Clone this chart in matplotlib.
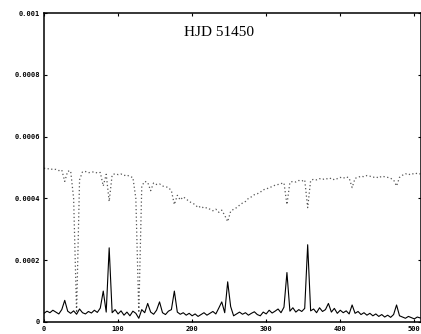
import numpy as np
import matplotlib
matplotlib.use("Agg")
from matplotlib import pyplot as plt

# pixel index of the spectrum, sampled every 4 pixels
pixel = np.arange(0, 512, 4)

# dotted spectrum (units of 1e-5)
upper_e5 = [
    49.8, 49.5, 49.7, 49.3, 49.4, 49.0, 49.2, 45.5,
    48.8, 48.9, 40.0, 3.0, 46.0, 48.6, 48.7, 48.3,
    48.5, 48.6, 48.2, 48.4, 44.0, 47.8, 39.0, 47.6,
    48.0, 47.7, 47.9, 47.4, 47.6, 47.0, 46.8, 40.0,
    3.0, 44.0, 45.5, 45.2, 42.5, 45.0, 44.5, 44.7,
    44.0, 43.8, 43.5, 42.5, 38.0, 41.0, 39.5, 40.5,
    39.8, 39.0, 38.5, 38.0, 37.0, 37.5, 36.8, 37.0,
    36.5, 36.0, 36.5, 35.5, 36.2, 34.5, 32.5, 35.8,
    36.5, 37.0, 37.8, 38.5, 39.0, 40.0, 40.5, 41.2,
    41.5, 42.0, 42.8, 43.0, 43.5, 43.8, 44.3, 44.5,
    44.8, 45.0, 38.0, 45.2, 45.5, 45.3, 45.8, 45.6,
    46.0, 37.0, 45.8, 46.2, 46.0, 46.4, 46.1, 46.5,
    46.2, 46.6, 46.0, 46.4, 46.8, 46.5, 47.0, 46.6,
    43.5, 46.5, 46.8, 47.2, 47.0, 47.4, 47.2, 46.8,
    47.0, 46.6, 47.2, 47.0, 46.8, 46.5, 46.0, 44.0,
    46.8, 47.5, 48.0, 47.6, 48.1, 47.8, 48.2, 47.9,
]

# solid spectrum near zero (units of 1e-5)
lower_e5 = [
    2.8, 3.5, 3.0, 3.8, 3.2, 2.6, 4.0, 7.0,
    3.5, 2.8, 3.6, 2.5, 4.2, 3.0, 2.6, 3.4,
    2.9, 3.8, 3.1, 4.5, 10.0, 3.2, 24.0, 3.0,
    4.0, 2.6, 3.6, 2.2, 3.2, 2.0, 3.5, 2.8,
    1.2, 4.0, 3.0, 6.0, 3.2, 2.5, 3.8, 6.5,
    3.0, 2.4, 3.5, 4.0, 10.0, 3.2, 2.5, 3.0,
    2.2, 2.8, 2.0, 2.6, 1.8, 2.4, 3.0, 2.2,
    2.8, 3.4, 2.6, 4.5, 6.5, 3.0, 13.0, 5.0,
    2.0, 2.6, 3.2, 2.5, 3.0, 2.2, 2.8, 3.3,
    2.4, 2.0, 3.2, 2.6, 3.8, 2.9, 3.5, 4.2,
    3.0, 4.8, 16.0, 3.5, 4.6, 3.2, 4.0, 3.4,
    4.4, 25.0, 3.6, 4.2, 3.0, 4.6, 3.4, 4.0,
    6.0, 3.2, 4.4, 2.8, 3.8, 3.0, 3.6, 2.6,
    5.5, 2.8, 3.4, 2.4, 3.0, 2.2, 2.8, 2.0,
    2.6, 1.8, 2.4, 1.6, 2.2, 1.5, 2.4, 5.5,
    2.0, 1.6, 1.2, 1.8, 1.4, 1.0, 1.6, 1.3,
]

x_ticks = [0, 100, 200, 300, 400, 500]
y_ticks = [0, 0.0002, 0.0004, 0.0006, 0.0008, 0.001]
y_tick_labels = ["0", "0.0002", "0.0004", "0.0006", "0.0008", "0.001"]
title = "HJD 51450"

upper = np.array(upper_e5) * 1e-5
lower = np.array(lower_e5) * 1e-5

fig = plt.figure(figsize=(4.21, 3.34), dpi=100)
ax = fig.add_axes([0.1045, 0.036, 0.8955, 0.925])

ax.plot(pixel, upper, color="#555555", linestyle=(0, (1, 2)), linewidth=0.9)
ax.plot(pixel, lower, color="black", linewidth=0.8)

ax.set_xlim(0, 509)
ax.set_ylim(0, 0.001)
ax.set_xticks(x_ticks)
ax.set_xticklabels([str(t) for t in x_ticks])
ax.set_yticks(y_ticks)
ax.set_yticklabels(y_tick_labels)

for s in ax.spines.values():
    s.set_linewidth(1.1)
ax.tick_params(direction="in", length=2, width=0.8, pad=3,
               right=True, top=True, labelsize=5)
for lbl in ax.get_xticklabels() + ax.get_yticklabels():
    lbl.set_fontweight("bold")
    lbl.set_family("DejaVu Sans Mono")

ax.text(0.465, 0.958, title, transform=ax.transAxes, ha="center", va="top",
        family="Liberation Serif", fontsize=11)

fig.savefig("out.png", dpi=100)
